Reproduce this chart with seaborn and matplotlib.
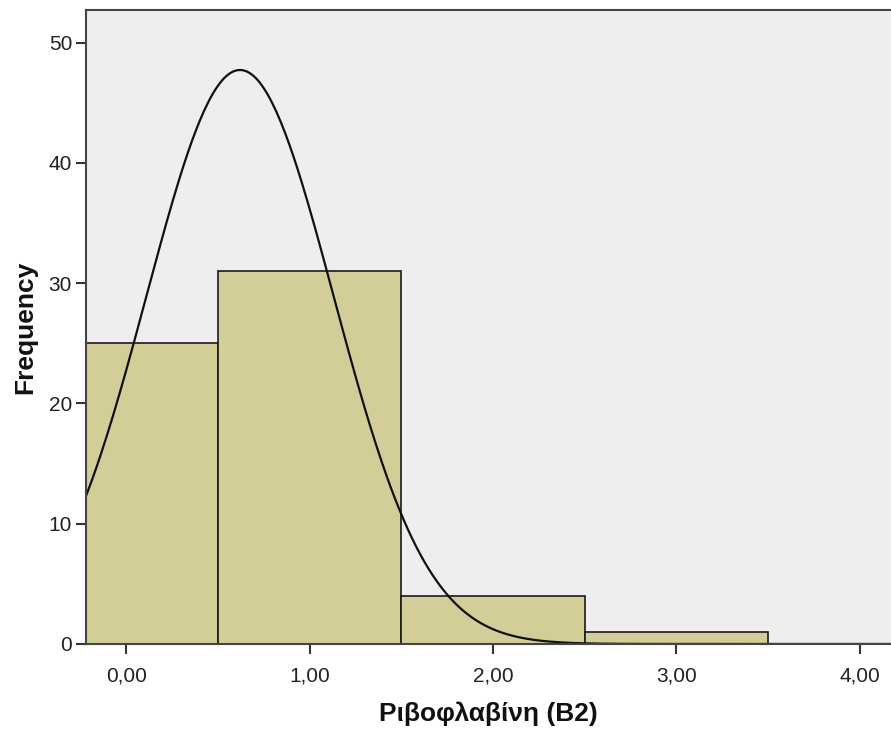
import numpy as np
import pandas as pd
import matplotlib
matplotlib.use('Agg')
import matplotlib.pyplot as plt
import seaborn as sns

# Histogram data
bin_centers = [0.0, 1.0, 2.0, 3.0]
counts = [25, 31, 4, 1]
bin_edges = [-0.5, 0.5, 1.5, 2.5, 3.5]

# Normal curve parameters (estimated)
curve_mean = 0.62
curve_sd = 0.51
n_total = sum(counts)
bin_width = 1.0

x_ticks = [0, 1, 2, 3, 4]
x_tick_labels = ['0,00', '1,00', '2,00', '3,00', '4,00']
y_ticks = [0, 10, 20, 30, 40, 50]

sns.set_style('white')
plt.rcParams['font.family'] = ['Liberation Sans', 'DejaVu Sans']

fig = plt.figure(figsize=(8.91, 7.38), dpi=100)
ax = fig.add_axes([0.0965, 0.1274, 0.9035, 0.859])
ax.set_facecolor('#EFEDEF')

df = pd.DataFrame({'value': bin_centers, 'count': counts})
sns.histplot(data=df, x='value', weights='count', bins=bin_edges, ax=ax,
             color='#D3CE97', alpha=1.0, edgecolor='#1a1a1a', linewidth=1.2)

xs = np.linspace(-0.3, 4.3, 400)
ys = n_total * bin_width * np.exp(-0.5 * ((xs - curve_mean) / curve_sd) ** 2) / (curve_sd * np.sqrt(2 * np.pi))
sns.lineplot(x=xs, y=ys, ax=ax, color='#111111', linewidth=1.6)

ax.set_xlim(-0.22, 4.17)
ax.set_ylim(0, 52.7)
ax.set_xticks(x_ticks)
ax.set_xticklabels(x_tick_labels)
ax.set_yticks(y_ticks)
ax.tick_params(axis='both', direction='out', length=7, width=1.5, color='#333333',
               labelsize=15, labelcolor='#222222', bottom=True, left=True)
ax.tick_params(axis='x', pad=9)
ax.tick_params(axis='y', pad=3)

for side in ['left', 'bottom', 'top']:
    ax.spines[side].set_color('#444444')
    ax.spines[side].set_linewidth(1.5)
ax.spines['right'].set_visible(False)

ax.set_xlabel('Ριβοφλαβίνη (B2)', fontsize=19, fontweight='bold', color='#111111', labelpad=12)
ax.set_ylabel('Frequency', fontsize=19, fontweight='bold', color='#111111', labelpad=8)

fig.savefig('out.png', dpi=100)
